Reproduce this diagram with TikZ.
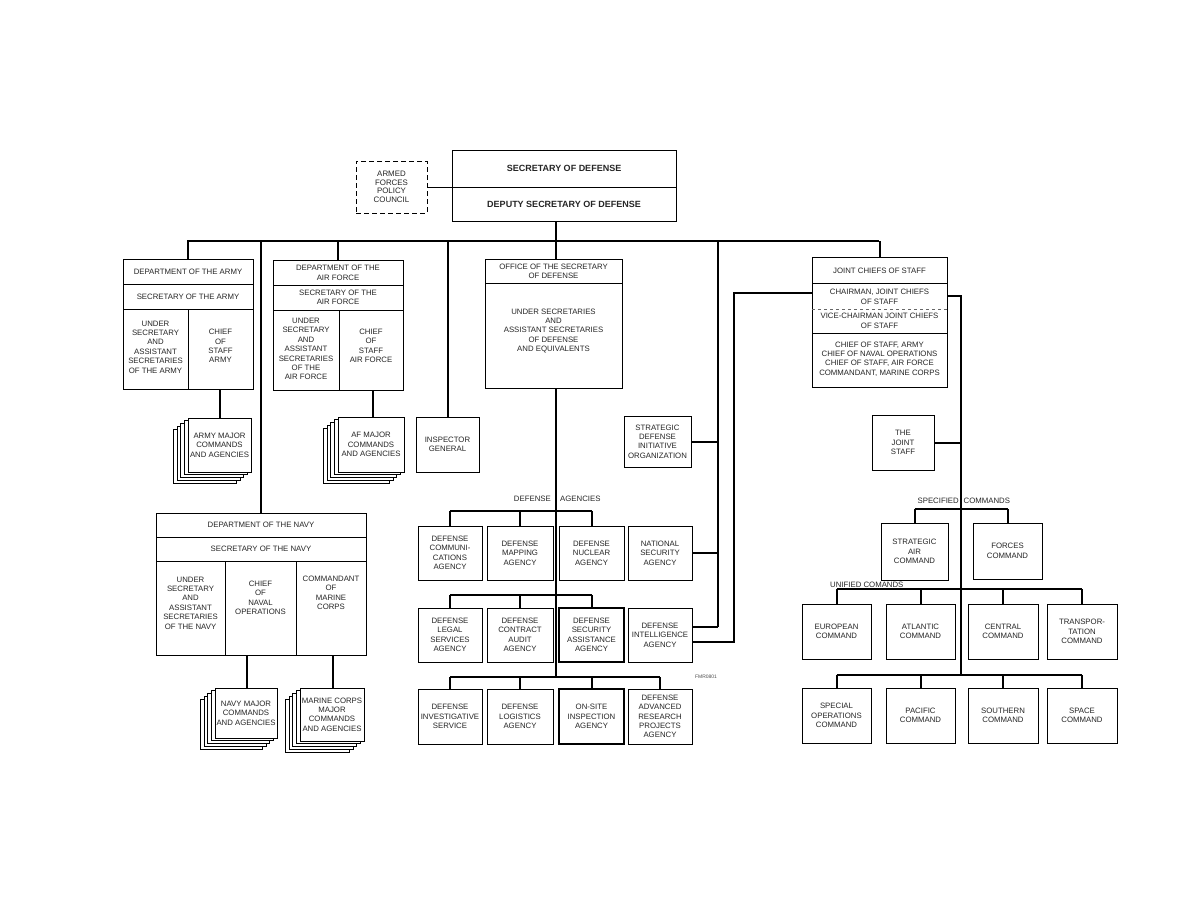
\documentclass[tikz,border=0pt]{standalone}
\usepackage{fontspec}
\setmainfont{Liberation Sans}
\newcommand\fs{\fontsize{7.8}{9.4}\selectfont}
\newcommand\sfs{\fontsize{7.9}{8.6}\selectfont}
\newcommand\bfs{\fontsize{9}{11}\selectfont\bfseries}
\newcommand\bx[7][]{%
  \pgfmathsetmacro\bxw{#5-#3}\pgfmathsetmacro\bxh{#6-#4}%
  \node[box,minimum width=\bxw pt,minimum height=\bxh pt,#1] (#2) at ({(#3+#5)/2},{(#4+#6)/2}) {#7};}
\newcommand\stk[6]{%
  \foreach \k in {4,3,2,1} {\draw[stackbox] ({#2-3.6*\k},{#3+2.8*\k}) rectangle ({#4-3.6*\k},{#5+2.8*\k});}
  \bx{#1}{#2}{#3}{#4}{#5}{#6}}
\begin{document}
\begin{tikzpicture}[x=1pt,y=-1pt,
  box/.style={draw,line width=0.9pt,inner sep=0pt,outer sep=0pt,align=center,font=\fs,fill=white,text=black!85},
  thickbox/.style={line width=1.7pt},
  dashbox/.style={dash pattern=on 5pt off 3pt,line width=1pt,font=\sfs},
  txt/.style={inner sep=0pt,align=center,font=\fs,text=black!85},
  conn/.style={line width=2pt},
  thinconn/.style={line width=1.3pt},
  div/.style={line width=0.8pt},
  stackbox/.style={draw,fill=white,line width=0.8pt}]
\useasboundingbox (0,0) rectangle (1188,918);

% ---------- top ----------
\bx{secdef}{452}{150}{676}{221}{}
\draw[div] (452,187) -- (676,187);
\node[txt,font=\bfs] (secdefT) at (564,168) {SECRETARY OF DEFENSE};
\node[txt,font=\bfs] (depT) at (564,204) {DEPUTY SECRETARY OF DEFENSE};
\bx[dashbox]{afpc}{356}{161}{427}{213}{ARMED\\FORCES\\POLICY\\COUNCIL}
\draw[div] (afpc.east) -- (afpc.east -| secdef.west);

% ---------- main bus ----------
\coordinate (busL) at (187,241);
\coordinate (busR) at (879,241);
\coordinate (sdv) at (556,241);
\coordinate (v718) at (718,241);
\draw[conn] (busL) -- (busR);
\draw[conn] (secdef.south -| sdv) -- (sdv);

% ---------- Army ----------
\bx{army}{123}{259}{253}{389}{}
\draw[div] (123,284) -- (253,284);
\draw[div] (123,309) -- (253,309);
\draw[div] (188,309) -- (188,389);
\node[txt] (armyT1) at (188,271.5) {DEPARTMENT OF THE ARMY};
\node[txt] (armyT2) at (188,296.5) {SECRETARY OF THE ARMY};
\node[txt] (armyT3) at (155.5,347) {UNDER\\SECRETARY\\AND\\ASSISTANT\\SECRETARIES\\OF THE ARMY};
\node[txt] (armyT4) at (220.5,346) {CHIEF\\OF\\STAFF\\ARMY};
\draw[conn] (army.north) -- (army.north |- busL);
\stk{armystk}{188}{418}{251}{472}{ARMY MAJOR\\COMMANDS\\AND AGENCIES}
\coordinate (armyv) at (220,389);
\draw[thinconn] (armyv) -- (armyv |- armystk.north);

% ---------- Air Force ----------
\bx{af}{273}{260}{403}{390}{}
\draw[div] (273,285) -- (403,285);
\draw[div] (273,310) -- (403,310);
\draw[div] (339,310) -- (339,390);
\node[txt] (afT1) at (338,273) {DEPARTMENT OF THE\\AIR FORCE};
\node[txt] (afT2) at (338,297.5) {SECRETARY OF THE\\AIR FORCE};
\node[txt] (afT3) at (306,349) {UNDER\\SECRETARY\\AND\\ASSISTANT\\SECRETARIES\\OF THE\\AIR FORCE};
\node[txt] (afT4) at (371,346) {CHIEF\\OF\\STAFF\\AIR FORCE};
\draw[conn] (af.north) -- (af.north |- busL);
\stk{afstk}{338}{417}{404}{472}{AF MAJOR\\COMMANDS\\AND AGENCIES}
\coordinate (afv) at (373,390);
\draw[conn] (afv) -- (afv |- afstk.north);

% ---------- Inspector General ----------
\bx{ig}{416}{417}{479}{472}{INSPECTOR\\GENERAL}
\draw[conn] (ig.north) -- (ig.north |- busL);

% ---------- Navy ----------
\bx{navy}{156}{513}{366}{655}{}
\draw[div] (156,537) -- (366,537);
\draw[div] (156,561) -- (366,561);
\draw[div] (225,561) -- (225,655);
\draw[div] (296,561) -- (296,655);
\node[txt] (navyT1) at (261,525) {DEPARTMENT OF THE NAVY};
\node[txt] (navyT2) at (261,549) {SECRETARY OF THE NAVY};
\node[txt] (navyT3) at (190.5,603) {UNDER\\SECRETARY\\AND\\ASSISTANT\\SECRETARIES\\OF THE NAVY};
\node[txt] (navyT4) at (260.5,598) {CHIEF\\OF\\NAVAL\\OPERATIONS};
\node[txt] (navyT5) at (331,593) {COMMANDANT\\OF\\MARINE\\CORPS};
\draw[thinconn] (navy.north) -- (navy.north |- busL);
\stk{navystk}{215}{688}{277}{738}{NAVY MAJOR\\COMMANDS\\AND AGENCIES}
\stk{mcstk}{300}{688}{364}{741}{MARINE CORPS\\MAJOR\\COMMANDS\\AND AGENCIES}
\coordinate (navyv) at (247,655);
\coordinate (mcv) at (333,655);
\draw[conn] (navyv) -- (navyv |- navystk.north);
\draw[conn] (mcv) -- (mcv |- mcstk.north);

% ---------- OSD ----------
\bx{osd}{485}{259}{622}{388}{}
\draw[div] (485,283) -- (622,283);
\node[txt] (osdT1) at (553.5,271.5) {OFFICE OF THE SECRETARY\\OF DEFENSE};
\node[txt] (osdT2) at (553.5,331) {UNDER SECRETARIES\\AND\\ASSISTANT SECRETARIES\\OF DEFENSE\\AND EQUIVALENTS};
\draw[conn] (sdv) -- (osd.north -| sdv);

% ---------- SDIO ----------
\bx{sdio}{624}{416}{691}{467}{STRATEGIC\\DEFENSE\\INITIATIVE\\ORGANIZATION}

% ---------- Defense agencies ----------
\coordinate (da1) at (556,511);
\coordinate (da2) at (556,595);
\coordinate (da3) at (556,677);
\draw[conn] (osd.south -| sdv) -- (da3);
\node[txt,anchor=east] (daL) at (551,499) {DEFENSE};
\node[txt,anchor=west] (daR) at (560,499) {AGENCIES};

\bx{dca}{418}{526}{482}{580}{DEFENSE\\COMMUNI-\\CATIONS\\AGENCY}
\bx{dma}{487}{526}{553}{580}{DEFENSE\\MAPPING\\AGENCY}
\bx{dna}{559}{526}{624}{580}{DEFENSE\\NUCLEAR\\AGENCY}
\bx{nsa}{628}{526}{692}{580}{NATIONAL\\SECURITY\\AGENCY}
\bx{dlsa}{418}{608}{482}{662}{DEFENSE\\LEGAL\\SERVICES\\AGENCY}
\bx{dcaa}{487}{608}{553}{662}{DEFENSE\\CONTRACT\\AUDIT\\AGENCY}
\bx[thickbox]{dsaa}{559}{608}{624}{662}{DEFENSE\\SECURITY\\ASSISTANCE\\AGENCY}
\bx{dia}{628}{608}{692}{662}{DEFENSE\\INTELLIGENCE\\AGENCY}
\bx{dis}{418}{689}{482}{744}{DEFENSE\\INVESTIGATIVE\\SERVICE}
\bx{dla}{487}{689}{553}{744}{DEFENSE\\LOGISTICS\\AGENCY}
\bx[thickbox]{osia}{559}{689}{624}{744}{ON-SITE\\INSPECTION\\AGENCY}
\bx{darpa}{628}{689}{692}{744}{DEFENSE\\ADVANCED\\RESEARCH\\PROJECTS\\AGENCY}

\draw[conn] (dca.north |- da1) -- (dna.north |- da1);
\foreach \n in {dca,dma,dna} {\draw[conn] (\n.north) -- (\n.north |- da1);}
\draw[conn] (dlsa.north |- da2) -- (dsaa.north |- da2);
\foreach \n in {dlsa,dcaa,dsaa} {\draw[conn] (\n.north) -- (\n.north |- da2);}
\draw[conn] (dis.north |- da3) -- (darpa.north |- da3);
\foreach \n in {dis,dla,osia,darpa} {\draw[conn] (\n.north) -- (\n.north |- da3);}

\node[inner sep=0pt,font=\fontsize{5}{6}\selectfont,text=black!70] (fmr) at (706,677) {FMR0801};

% ---------- line 718 ----------
\coordinate (c718) at (718,627);
\draw[conn] (v718) -- (c718);
\draw[conn] (sdio.east) -- (sdio.east -| v718);
\draw[conn] (nsa.east) -- (nsa.east -| v718);
\draw[conn] ([yshift=8pt]dia.east) -- (c718);

% ---------- JCS ----------
\bx{jcs}{812}{257}{947}{387}{}
\draw[div] (812,283) -- (947,283);
\draw[div,dashed,black!60] (812,309) -- (947,309);
\draw[div] (812,333) -- (947,333);
\node[txt] (jcsT1) at (879.5,271) {JOINT CHIEFS OF STAFF};
\node[txt] (jcsT2) at (879.5,297) {CHAIRMAN, JOINT CHIEFS\\OF STAFF};
\node[txt] (jcsT3) at (879.5,321) {VICE-CHAIRMAN JOINT CHIEFS\\OF STAFF};
\node[txt] (jcsT4) at (879.5,359) {CHIEF OF STAFF, ARMY\\CHIEF OF NAVAL OPERATIONS\\CHIEF OF STAFF, AIR FORCE\\COMMANDANT, MARINE CORPS};
\draw[conn] (jcs.north) -- (jcs.north |- busR);

\coordinate (c734) at (734,300);
\draw[conn] ([yshift=29pt]jcs.west) -| ([yshift=-7pt]dia.east -| c734) -- ([yshift=-7pt]dia.east);

\bx{js}{872}{415}{934}{470}{THE\\JOINT\\STAFF}
\coordinate (c961) at (961,675);
\draw[conn] ([yshift=26pt]jcs.east) -| (c961);
\draw[conn] (js.east) -- (js.east -| c961);

% ---------- commands ----------
\coordinate (sc) at (961,509);
\coordinate (uc1) at (961,589);
\coordinate (uc2) at (961,675);
\node[txt,anchor=east] (scL) at (959,501) {SPECIFIED};
\node[txt,anchor=west] (scR) at (963.5,501) {COMMANDS};
\node[txt,anchor=west] (ucL) at (830,585) {UNIFIED COMANDS};

\bx{sac}{881}{523}{948}{580}{STRATEGIC\\AIR\\COMMAND}
\bx{forces}{973}{523}{1042}{579}{FORCES\\COMMAND}
\bx{euro}{802}{604}{871}{659}{EUROPEAN\\COMMAND}
\bx{atl}{886}{604}{955}{659}{ATLANTIC\\COMMAND}
\bx{cent}{968}{604}{1038}{659}{CENTRAL\\COMMAND}
\bx{trans}{1047}{604}{1117}{659}{TRANSPOR-\\TATION\\COMMAND}
\bx{socom}{802}{688}{871}{743}{SPECIAL\\OPERATIONS\\COMMAND}
\bx{pac}{886}{688}{955}{743}{PACIFIC\\COMMAND}
\bx{south}{968}{688}{1038}{743}{SOUTHERN\\COMMAND}
\bx{space}{1047}{688}{1117}{743}{SPACE\\COMMAND}

\draw[conn] (sac.north |- sc) -- (forces.north |- sc);
\foreach \n in {sac,forces} {\draw[conn] (\n.north) -- (\n.north |- sc);}
\draw[conn] (euro.north |- uc1) -- (trans.north |- uc1);
\foreach \n in {euro,atl,cent,trans} {\draw[conn] (\n.north) -- (\n.north |- uc1);}
\draw[conn] (socom.north |- uc2) -- (space.north |- uc2);
\foreach \n in {socom,pac,south,space} {\draw[conn] (\n.north) -- (\n.north |- uc2);}
\end{tikzpicture}
\end{document}
